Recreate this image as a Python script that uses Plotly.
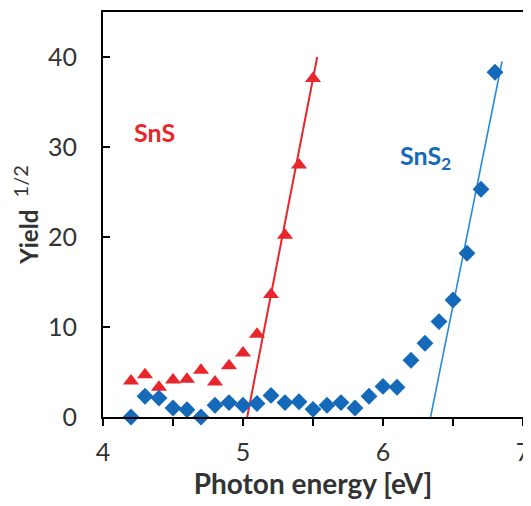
import plotly.graph_objects as go

# Data
energy_sns = [4.2, 4.3, 4.4, 4.5, 4.6, 4.7, 4.8, 4.9, 5.0, 5.1, 5.2, 5.3, 5.4, 5.5]
yield_sns = [4.0, 4.7, 3.3, 4.1, 4.2, 5.2, 3.9, 5.7, 7.1, 9.2, 13.6, 20.2, 28.0, 37.6]

energy_sns2 = [4.2, 4.3, 4.4, 4.5, 4.6, 4.7, 4.8, 4.9, 5.0, 5.1, 5.2, 5.3, 5.4, 5.5,
               5.6, 5.7, 5.8, 5.9, 6.0, 6.1, 6.2, 6.3, 6.4, 6.5, 6.6, 6.7, 6.8]
yield_sns2 = [0.0, 2.3, 2.1, 1.0, 0.8, 0.0, 1.3, 1.6, 1.3, 1.5, 2.4, 1.6, 1.7, 0.85,
              1.3, 1.6, 1.0, 2.3, 3.4, 3.3, 6.3, 8.2, 10.6, 13.0, 18.2, 25.3, 38.3]

fit_sns_x = [5.03, 5.53]
fit_sns_y = [0, 40]
fit_sns2_x = [6.34, 6.85]
fit_sns2_y = [0, 39.5]

x_ticks = [4, 5, 6, 7]
y_ticks = [0, 10, 20, 30, 40]

RED = "#E8262B"
BLUE = "#1469B8"
BLUE_LINE = "#2A8AD6"
FONT = "Lato"

fig = go.Figure()
fig.add_trace(go.Scatter(x=fit_sns_x, y=fit_sns_y, mode="lines",
                         line=dict(color=RED, width=2), cliponaxis=False, showlegend=False))
fig.add_trace(go.Scatter(x=fit_sns2_x, y=fit_sns2_y, mode="lines",
                         line=dict(color=BLUE_LINE, width=1.6), cliponaxis=False, showlegend=False))
fig.add_trace(go.Scatter(x=energy_sns, y=yield_sns, mode="markers",
                         marker=dict(symbol="triangle-up", size=14, color=RED),
                         cliponaxis=False, showlegend=False))
fig.add_trace(go.Scatter(x=energy_sns2, y=yield_sns2, mode="markers",
                         marker=dict(symbol="diamond", size=13, color=BLUE),
                         cliponaxis=False, showlegend=False))

fig.add_annotation(x=4.37, y=31.7, text="<b>SnS</b>", showarrow=False,
                   font=dict(family=FONT, size=25, color=RED))
fig.add_annotation(x=6.30, y=28.9, text="<b>SnS<sub>2</sub></b>", showarrow=False,
                   font=dict(family=FONT, size=25, color=BLUE))

# The page body adds an 8px offset, so the figure is sized to the visible area.
fig.update_layout(
    width=523, height=498,
    margin=dict(l=95, r=8, t=4, b=89),
    paper_bgcolor="white", plot_bgcolor="white",
    font=dict(family=FONT, color="#222222"),
    xaxis=dict(
        range=[4, 7], tickvals=x_ticks, ticks="outside", ticklen=7, tickwidth=2,
        tickcolor="black", showline=True, linecolor="black", linewidth=2, mirror=True,
        showgrid=False, zeroline=False, tickfont=dict(size=25, family=FONT, color="#333333"),
        ticklabelstandoff=5, automargin=False,
        minor=dict(dtick=0.5, ticks="outside", ticklen=7, tickwidth=2, tickcolor="black", showgrid=False),
        title=dict(text="<b>Photon energy [eV]</b>", font=dict(size=28, family=FONT, color="#333333"), standoff=1),
    ),
    yaxis=dict(
        range=[0, 45], tickvals=y_ticks, ticks="inside", ticklen=7, tickwidth=2,
        tickcolor="black", showline=True, linecolor="black", linewidth=2, mirror=True,
        showgrid=False, zeroline=False, tickfont=dict(size=25, family=FONT, color="#333333"),
        ticklabelstandoff=19, automargin=False,
        title=dict(text="<b>Yield</b>&nbsp;&nbsp;<sup><span style='font-size:20px'>1/2</span></sup>",
                   font=dict(size=24, family=FONT, color="#333333"), standoff=10),
    ),
)

fig.write_html("out.html")
